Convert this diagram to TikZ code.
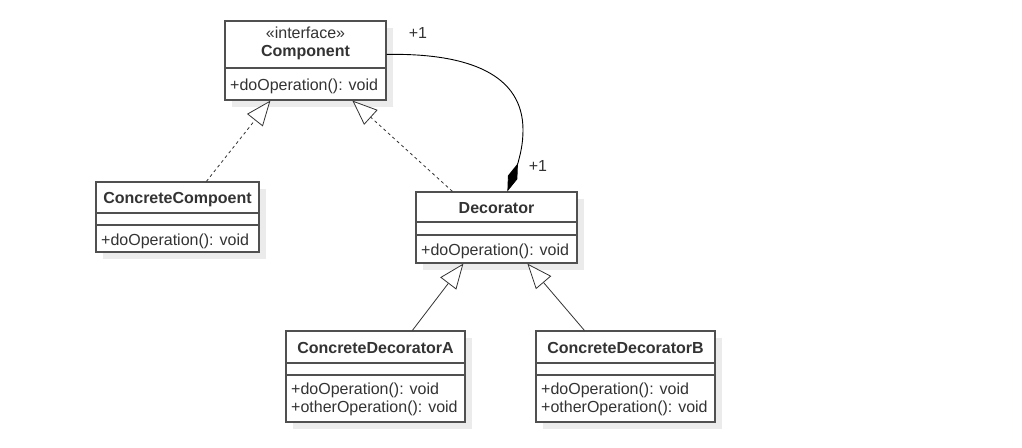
\documentclass[tikz,border=0pt]{standalone}
\usepackage{fontspec}
\setmainfont{Liberation Sans}
\usetikzlibrary{arrows.meta,calc,shadows}
\definecolor{linec}{HTML}{505050}
\definecolor{txtc}{HTML}{333333}
\begin{document}
\begin{tikzpicture}[x=1pt,y=-1pt,
  cls/.style={draw=linec, fill=white, line width=1.2pt, inner sep=0pt,
    drop shadow={shadow xshift=7pt, shadow yshift=-7pt, fill=black!8, opacity=1}},
  divl/.style={draw=linec, line width=1.2pt},
  txt/.style={text=txtc, font=\fontsize{16}{18}\selectfont, inner sep=0pt, anchor=base},
  btxt/.style={txt, font=\fontsize{16}{18}\selectfont\bfseries},
  ltxt/.style={txt, anchor=base west},
  gen/.style={draw=black!80, line width=0.8pt, -{Triangle[open, length=25pt, width=20pt, fill=white]}},
  comp/.style={draw=black, line width=0.9pt}
]
\useasboundingbox[fill=white] (0,0) rectangle (1022,447);

% Component
\node[cls, minimum width=161pt, minimum height=79pt] (comp) at (305.5,60.5) {};
\draw[divl] (comp.west |- 0,68) -- (comp.east |- 0,68);
\node[txt] (compst) at (305.5,38) {«interface»};
\node[btxt] (compname) at (305.5,56) {Component};
\node[ltxt] (compm) at (230,90) {+doOperation(): void};

% ConcreteCompoent
\node[cls, minimum width=163pt, minimum height=70pt] (cc) at (177.5,217) {};
\draw[divl] (cc.west |- 0,213) -- (cc.east |- 0,213);
\draw[divl] (cc.west |- 0,225) -- (cc.east |- 0,225);
\node[btxt] (ccname) at (177.5,203) {ConcreteCompoent};
\node[ltxt] (ccm) at (101,245) {+doOperation(): void};

% Decorator
\node[cls, minimum width=161pt, minimum height=71pt] (dec) at (496.5,227.5) {};
\draw[divl] (dec.west |- 0,222) -- (dec.east |- 0,222);
\draw[divl] (dec.west |- 0,235) -- (dec.east |- 0,235);
\node[btxt] (decname) at (496.5,213) {Decorator};
\node[ltxt] (decm) at (421,255) {+doOperation(): void};

% ConcreteDecoratorA
\node[cls, minimum width=179pt, minimum height=91pt] (cda) at (375.5,376.5) {};
\draw[divl] (cda.west |- 0,363) -- (cda.east |- 0,363);
\draw[divl] (cda.west |- 0,375) -- (cda.east |- 0,375);
\node[btxt] (cdaname) at (375.5,353) {ConcreteDecoratorA};
\node[ltxt] (cdam1) at (291,394) {+doOperation(): void};
\node[ltxt] (cdam2) at (291,412) {+otherOperation(): void};

% ConcreteDecoratorB
\node[cls, minimum width=179pt, minimum height=91pt] (cdb) at (625.5,376.5) {};
\draw[divl] (cdb.west |- 0,363) -- (cdb.east |- 0,363);
\draw[divl] (cdb.west |- 0,375) -- (cdb.east |- 0,375);
\node[btxt] (cdbname) at (625.5,353) {ConcreteDecoratorB};
\node[ltxt] (cdbm1) at (541,394) {+doOperation(): void};
\node[ltxt] (cdbm2) at (541,412) {+otherOperation(): void};

% realizations
\draw[gen, dashed] ($(cc.north west)+(111,0)$) -- ($(comp.south west)+(46,0)$);
\draw[gen, dashed] ($(dec.north west)+(37,0)$) -- ($(comp.south west)+(128,0)$);
% generalizations
\draw[gen] ($(cda.north west)+(127,0)$) -- ($(dec.south west)+(48,0)$);
\draw[gen] ($(cdb.north west)+(49,0)$) -- ($(dec.south west)+(112,0)$);

% composition
\draw[comp, {Diamond[length=30pt, width=10pt, fill=black]}-]
  ($(dec.north west)+(92,0)$) -- (518,163)
  .. controls (520,155) and (523,145) .. (523,130)
  .. controls (523,75) and (470,53) .. ($(comp.north east)+(0,34)$);
\node[txt] (m1) at (418,38) {+1};
\node[txt] (m2) at (538,171) {+1};
\end{tikzpicture}
\end{document}
